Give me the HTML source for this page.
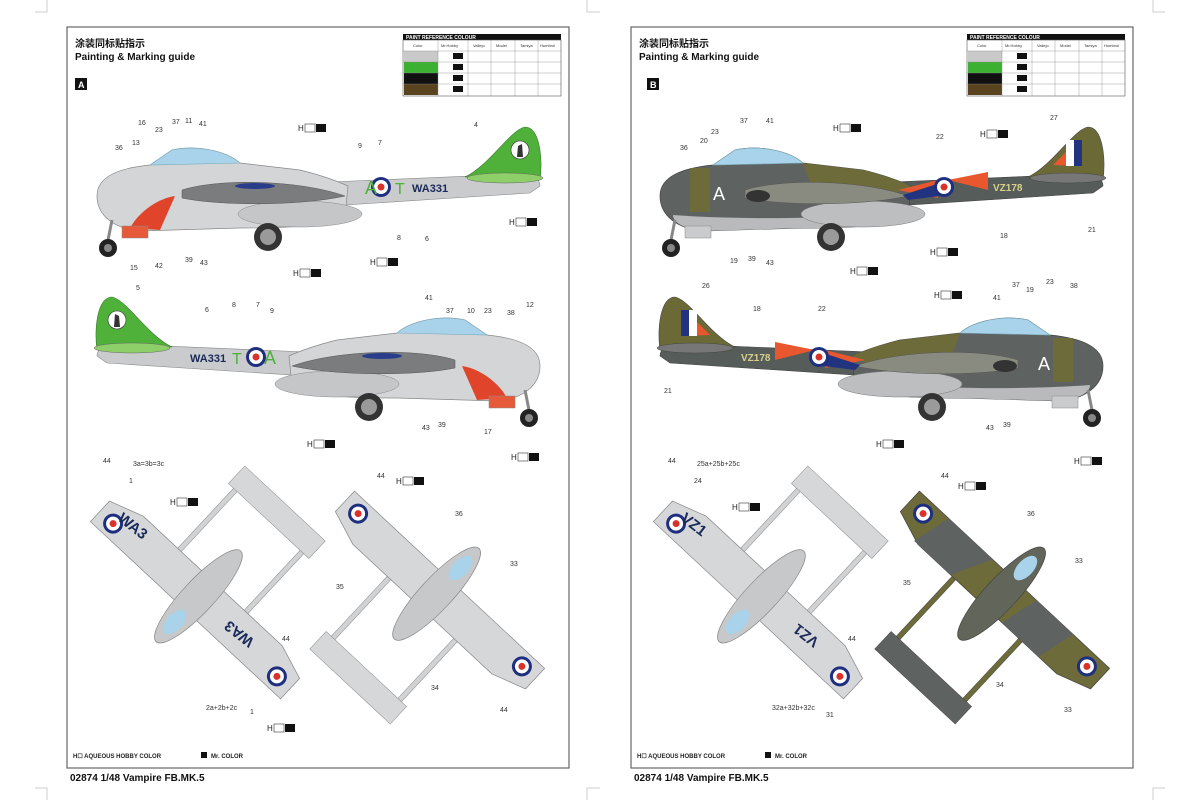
<!DOCTYPE html>
<html><head><meta charset="utf-8"><style>
body{margin:0;background:#fff;}
svg{display:block;font-family:"Liberation Sans","Noto Sans CJK SC",sans-serif;}
.n{font-size:7px;fill:#333;}
.t{font-size:10px;font-weight:bold;fill:#111;}
.s{font-size:6px;font-weight:bold;fill:#222;}
</style></head><body>
<svg width="1200" height="800" viewBox="0 0 1200 800" xmlns="http://www.w3.org/2000/svg">
<defs>
<g id="rnd"><circle r="10" fill="#1f2f80"/><circle r="7" fill="#fff"/><circle r="3.5" fill="#d9322a"/></g>
<g id="sideA">
 <path d="M330,182 L520,174 C535,174 540,180 540,186 L530,193 L330,206Z" fill="#c9cbcd" stroke="#888" stroke-width=".6"/>
 <path d="M465,177 C490,165 510,130 525,127 C540,127 543,160 540,180 Z" fill="#4fb03a" stroke="#3a7a2a" stroke-width=".6"/>
 <ellipse cx="505" cy="178" rx="38" ry="5" fill="#8fcf6a" stroke="#666" stroke-width=".5"/>
 <circle cx="520" cy="150" r="9" fill="#fff" stroke="#333" stroke-width=".6"/><path d="M517,157 L518,146 L522,144 L523,157Z" fill="#333"/>
 <path d="M97,196 C97,176 120,168 150,165 L172,150 C195,145 225,150 240,163 L300,170 C320,175 335,180 348,186 L345,216 C330,225 300,228 240,228 L140,231 C115,229 97,216 97,196Z" fill="#d3d5d7" stroke="#888" stroke-width=".7"/>
 <path d="M150,165 L172,150 C195,145 225,150 240,163 Z" fill="#a9d3ea" stroke="#7ab" stroke-width=".6"/>
 <path d="M130,228 C140,210 160,198 175,196 L160,230 Z" fill="#e0442a"/>
 <rect x="122" y="226" width="26" height="12" fill="#e65a3a" stroke="#888" stroke-width=".5"/>
 <ellipse cx="300" cy="214" rx="62" ry="13" fill="#c4c6c8" stroke="#888" stroke-width=".5"/>
 <path d="M182,190 C220,178 300,180 345,196 C300,206 220,206 182,198Z" fill="#7a7c7e" stroke="#555" stroke-width=".5"/>
 <ellipse cx="255" cy="186" rx="20" ry="3" fill="#2a3d8a"/>
 <line x1="112" y1="220" x2="108" y2="240" stroke="#888" stroke-width="3"/>
 <circle cx="108" cy="248" r="9" fill="#222"/><circle cx="108" cy="248" r="4" fill="#888"/>
 <circle cx="268" cy="237" r="14" fill="#333"/><circle cx="268" cy="237" r="8" fill="#9a9a9a"/>
 <use href="#rnd" x="381" y="187"/>
</g>
<g id="sideB">
 <path d="M330,182 L520,174 C535,174 540,180 540,186 L530,193 L330,206Z" fill="#565c5a" stroke="#444" stroke-width=".6"/>
 <path d="M465,177 C490,165 510,130 525,127 C540,127 543,160 540,180 Z" fill="#6b6a36" stroke="#444" stroke-width=".6"/>
 <path d="M490,165 L515,140 L515,166Z" fill="#e9572f"/><rect x="503" y="140" width="8" height="26" fill="#fff"/><rect x="511" y="140" width="8" height="26" fill="#22337f"/>
 <ellipse cx="505" cy="178" rx="38" ry="5" fill="#777" stroke="#444" stroke-width=".5"/>
 <path d="M97,196 C97,176 120,168 150,165 L172,150 C195,145 225,150 240,163 L300,170 C320,175 335,180 348,186 L345,216 C330,225 300,228 240,228 L140,231 C115,229 97,216 97,196Z" fill="#5e6362" stroke="#444" stroke-width=".7"/>
 <path d="M240,163 L300,170 C320,175 335,180 348,186 L330,195 L250,190Z" fill="#6d6b3a"/>
 <rect x="127" y="168" width="20" height="44" fill="#6d6b3a"/>
 <path d="M110,215 C150,218 250,222 345,210 L345,216 C330,225 300,228 240,228 L140,231 C120,229 110,222 110,215Z" fill="#b8babc"/>
 <path d="M150,165 L172,150 C195,145 225,150 240,163 Z" fill="#a9d3ea" stroke="#7ab" stroke-width=".6"/>
 <rect x="122" y="226" width="26" height="12" fill="#c9cbcd" stroke="#888" stroke-width=".5"/>
 <ellipse cx="300" cy="214" rx="62" ry="13" fill="#bcbec0" stroke="#777" stroke-width=".5"/>
 <path d="M182,190 C220,178 300,180 345,196 C300,206 220,206 182,198Z" fill="#8a8b80" stroke="#555" stroke-width=".5"/>
 <ellipse cx="195" cy="196" rx="12" ry="6" fill="#333"/>
 <path d="M335,190 L375,180 L375,198Z" fill="#e9572f"/><path d="M385,180 L425,172 L425,190 Z" fill="#e9572f"/><path d="M340,195 L380,182 L385,195 L345,200Z" fill="#22337f"/>
 <line x1="112" y1="220" x2="108" y2="240" stroke="#888" stroke-width="3"/>
 <circle cx="108" cy="248" r="9" fill="#222"/><circle cx="108" cy="248" r="4" fill="#888"/>
 <circle cx="268" cy="237" r="14" fill="#333"/><circle cx="268" cy="237" r="8" fill="#9a9a9a"/>
 <use href="#rnd" x="381" y="187"/>
</g>
<g id="topA">
 <rect x="-48" y="0" width="5" height="115" fill="#d0d2d4" stroke="#888" stroke-width=".5"/>
 <rect x="43" y="0" width="5" height="115" fill="#d0d2d4" stroke="#888" stroke-width=".5"/>
 <rect x="-55" y="108" width="110" height="24" fill="#d5d7d9" stroke="#888" stroke-width=".5"/>
 <path d="M-130,-14 L130,-14 L130,14 L95,26 L-95,26 L-130,14Z" fill="#d5d7d9" stroke="#888" stroke-width=".7"/>
 <ellipse cx="0" cy="5" rx="16" ry="62" fill="#c6c8ca" stroke="#888" stroke-width=".7"/>
 <ellipse cx="0" cy="-30" rx="8" ry="15" fill="#a9d3ea"/>
 <use href="#rnd" x="-112" y="0"/><use href="#rnd" x="112" y="0"/>
</g>
<g id="topB">
 <rect x="-48" y="0" width="5" height="115" fill="#6d6b3a" stroke="#444" stroke-width=".5"/>
 <rect x="43" y="0" width="5" height="115" fill="#6d6b3a" stroke="#444" stroke-width=".5"/>
 <rect x="-55" y="108" width="110" height="24" fill="#5e6362" stroke="#444" stroke-width=".5"/>
 <path d="M-130,-14 L130,-14 L130,14 L95,26 L-95,26 L-130,14Z" fill="#6d6b3a" stroke="#444" stroke-width=".7"/>
 <path d="M-90,-14 L-30,-14 L-50,26 L-100,26Z M30,-14 L80,-14 L70,26 L20,26Z" fill="#5e6362"/>
 <ellipse cx="0" cy="5" rx="16" ry="62" fill="#62665a" stroke="#444" stroke-width=".7"/>
 <ellipse cx="0" cy="-30" rx="8" ry="15" fill="#a9d3ea"/>
 <use href="#rnd" x="-112" y="0"/><use href="#rnd" x="112" y="0"/>
</g>
<g id="tbl">
 <rect x="0" y="0" width="158" height="6" fill="#111"/>
 <text x="3" y="5" font-size="5" fill="#fff" font-weight="bold">PAINT  REFERENCE COLOUR</text>
 <rect x="0" y="6" width="158" height="56" fill="#fff" stroke="#555" stroke-width=".6"/>
 <rect x="1" y="17" width="34" height="11" fill="#c9c9c9"/><rect x="1" y="28" width="34" height="11" fill="#3cb030"/>
 <rect x="1" y="39" width="34" height="11" fill="#111"/><rect x="1" y="50" width="34" height="11" fill="#5a4420"/>
 <g stroke="#888" stroke-width=".4">
  <line x1="35" y1="6" x2="35" y2="62"/><line x1="65" y1="6" x2="65" y2="62"/><line x1="88" y1="6" x2="88" y2="62"/><line x1="112" y1="6" x2="112" y2="62"/><line x1="135" y1="6" x2="135" y2="62"/>
  <line x1="0" y1="17" x2="158" y2="17"/><line x1="0" y1="28" x2="158" y2="28"/><line x1="0" y1="39" x2="158" y2="39"/><line x1="0" y1="50" x2="158" y2="50"/>
 </g>
 <g font-size="4" fill="#333"><text x="10" y="13">Color</text><text x="38" y="13">Mr.Hobby</text><text x="70" y="13">Vallejo</text><text x="93" y="13">Model</text><text x="117" y="13">Tamiya</text><text x="137" y="13">Humbrol</text></g>
 <rect x="50" y="19" width="10" height="6" fill="#111"/><rect x="50" y="30" width="10" height="6" fill="#111"/><rect x="50" y="41" width="10" height="6" fill="#111"/><rect x="50" y="52" width="10" height="6" fill="#111"/>
</g>
<g id="hb"><text x="0" y="0" font-size="8" fill="#222">H</text><rect x="7" y="-7" width="10" height="8" fill="#fff" stroke="#333" stroke-width=".6"/><rect x="18" y="-7" width="10" height="8" fill="#111"/></g>
</defs>

<g stroke="#ccc" stroke-width="1" fill="none">
<path d="M47,0 V12 H35"/><path d="M587,0 V12 H600"/><path d="M1153,0 V12 H1165"/>
<path d="M47,800 V788 H35"/><path d="M587,800 V788 H600"/><path d="M1153,800 V788 H1165"/>
</g>

<!-- Panel A -->
<rect x="67" y="27" width="502" height="741" fill="none" stroke="#666" stroke-width="1.2"/>
<text x="75" y="47" class="t" font-size="11">涂装同标贴指示</text>
<text x="75" y="60" class="t">Painting &amp; Marking guide</text>
<rect x="75" y="78" width="12" height="12" fill="#111"/><text x="78" y="88" font-size="9" fill="#fff" font-weight="bold">A</text>
<use href="#tbl" x="403" y="34"/>
<use href="#sideA"/>
<text x="365" y="194" font-size="18" fill="#4fb03a">A</text>
<text x="395" y="194" font-size="16" fill="#4fb03a">T</text>
<text x="412" y="192" font-size="11" fill="#1a2a5a" font-weight="bold">WA331</text>
<use href="#sideA" transform="translate(637,170) scale(-1,1)"/>
<text x="264" y="364" font-size="18" fill="#4fb03a">A</text>
<text x="232" y="364" font-size="16" fill="#4fb03a">T</text>
<text x="190" y="362" font-size="11" fill="#1a2a5a" font-weight="bold">WA331</text>
<use href="#topA" transform="translate(195,600) rotate(223)"/>
<use href="#topA" transform="translate(440,590) rotate(43)"/>
<text x="117" y="520" font-size="15" fill="#1a2a5a" font-weight="bold" transform="rotate(38 117 520)">WA3</text>
<text x="255" y="640" font-size="15" fill="#1a2a5a" font-weight="bold" transform="rotate(218 255 640)">WA3</text>
<g class="n">
<text x="115" y="150">36</text><text x="132" y="145">13</text><text x="138" y="125">16</text><text x="155" y="132">23</text><text x="172" y="124">37</text><text x="185" y="123">11</text><text x="199" y="126">41</text>
<text x="358" y="148">9</text><text x="378" y="145">7</text><text x="474" y="127">4</text><text x="397" y="240">8</text><text x="425" y="241">6</text>
<text x="130" y="270">15</text><text x="155" y="268">42</text><text x="185" y="262">39</text><text x="200" y="265">43</text>
<text x="136" y="290">5</text><text x="205" y="312">6</text><text x="232" y="307">8</text><text x="256" y="307">7</text><text x="270" y="313">9</text>
<text x="425" y="300">41</text><text x="446" y="313">37</text><text x="467" y="313">10</text><text x="484" y="313">23</text><text x="507" y="315">38</text><text x="526" y="307">12</text>
<text x="422" y="430">43</text><text x="438" y="427">39</text><text x="484" y="434">17</text>
<text x="103" y="463">44</text><text x="133" y="466">3a=3b=3c</text><text x="129" y="483">1</text><text x="377" y="478">44</text>
<text x="455" y="516">36</text><text x="510" y="566">33</text><text x="336" y="589">35</text><text x="431" y="690">34</text><text x="500" y="712">44</text>
<text x="282" y="641">44</text><text x="206" y="710">2a+2b+2c</text><text x="250" y="714">1</text>
</g>
<use href="#hb" x="298" y="131"/><use href="#hb" x="509" y="225"/><use href="#hb" x="370" y="265"/><use href="#hb" x="293" y="276"/>
<use href="#hb" x="307" y="447"/><use href="#hb" x="511" y="460"/><use href="#hb" x="170" y="505"/><use href="#hb" x="396" y="484"/><use href="#hb" x="267" y="731"/>
<text x="73" y="758" class="s">H☐ AQUEOUS HOBBY COLOR</text><rect x="201" y="752" width="6" height="6" fill="#111"/><text x="211" y="758" class="s">Mr. COLOR</text>
<text x="70" y="781" class="t">02874 1/48 Vampire FB.MK.5</text>

<!-- Panel B -->
<rect x="631" y="27" width="502" height="741" fill="none" stroke="#666" stroke-width="1.2"/>
<text x="639" y="47" class="t" font-size="11">涂装同标贴指示</text>
<text x="639" y="60" class="t">Painting &amp; Marking guide</text>
<rect x="647" y="78" width="12" height="12" fill="#111"/><text x="650" y="88" font-size="9" fill="#fff" font-weight="bold">B</text>
<use href="#tbl" x="967" y="34"/>
<use href="#sideB" transform="translate(563,0)"/>
<text x="713" y="200" font-size="18" fill="#fff">A</text>
<text x="993" y="191" font-size="10" fill="#d7d08a" font-weight="bold">VZ178</text>
<use href="#sideB" transform="translate(1200,170) scale(-1,1)"/>
<text x="1038" y="370" font-size="18" fill="#fff">A</text>
<text x="741" y="361" font-size="10" fill="#d7d08a" font-weight="bold">VZ178</text>
<use href="#topA" transform="translate(758,600) rotate(223)"/>
<use href="#topB" transform="translate(1005,590) rotate(43)"/>
<text x="680" y="520" font-size="15" fill="#1a2a5a" font-weight="bold" transform="rotate(38 680 520)">VZ1</text>
<text x="820" y="640" font-size="15" fill="#1a2a5a" font-weight="bold" transform="rotate(218 820 640)">VZ1</text>
<g class="n">
<text x="680" y="150">36</text><text x="700" y="143">20</text><text x="711" y="134">23</text><text x="740" y="123">37</text><text x="766" y="123">41</text><text x="936" y="139">22</text><text x="1050" y="120">27</text>
<text x="730" y="263">19</text><text x="748" y="261">39</text><text x="766" y="265">43</text><text x="1000" y="238">18</text><text x="1088" y="232">21</text>
<text x="702" y="288">26</text><text x="753" y="311">18</text><text x="818" y="311">22</text><text x="993" y="300">41</text><text x="1012" y="287">37</text><text x="1026" y="292">19</text><text x="1046" y="284">23</text><text x="1070" y="288">38</text>
<text x="664" y="393">21</text><text x="986" y="430">43</text><text x="1003" y="427">39</text>
<text x="668" y="463">44</text><text x="697" y="466">25a+25b+25c</text><text x="694" y="483">24</text><text x="941" y="478">44</text>
<text x="1027" y="516">36</text><text x="1075" y="563">33</text><text x="903" y="585">35</text><text x="996" y="687">34</text><text x="1064" y="712">33</text>
<text x="848" y="641">44</text><text x="772" y="710">32a+32b+32c</text><text x="826" y="717">31</text>
</g>
<use href="#hb" x="833" y="131"/><use href="#hb" x="980" y="137"/><use href="#hb" x="930" y="255"/><use href="#hb" x="850" y="274"/>
<use href="#hb" x="934" y="298"/><use href="#hb" x="876" y="447"/><use href="#hb" x="1074" y="464"/><use href="#hb" x="732" y="510"/><use href="#hb" x="958" y="489"/>
<text x="637" y="758" class="s">H☐ AQUEOUS HOBBY COLOR</text><rect x="765" y="752" width="6" height="6" fill="#111"/><text x="775" y="758" class="s">Mr. COLOR</text>
<text x="634" y="781" class="t">02874 1/48 Vampire FB.MK.5</text>
</svg>
</body></html>
